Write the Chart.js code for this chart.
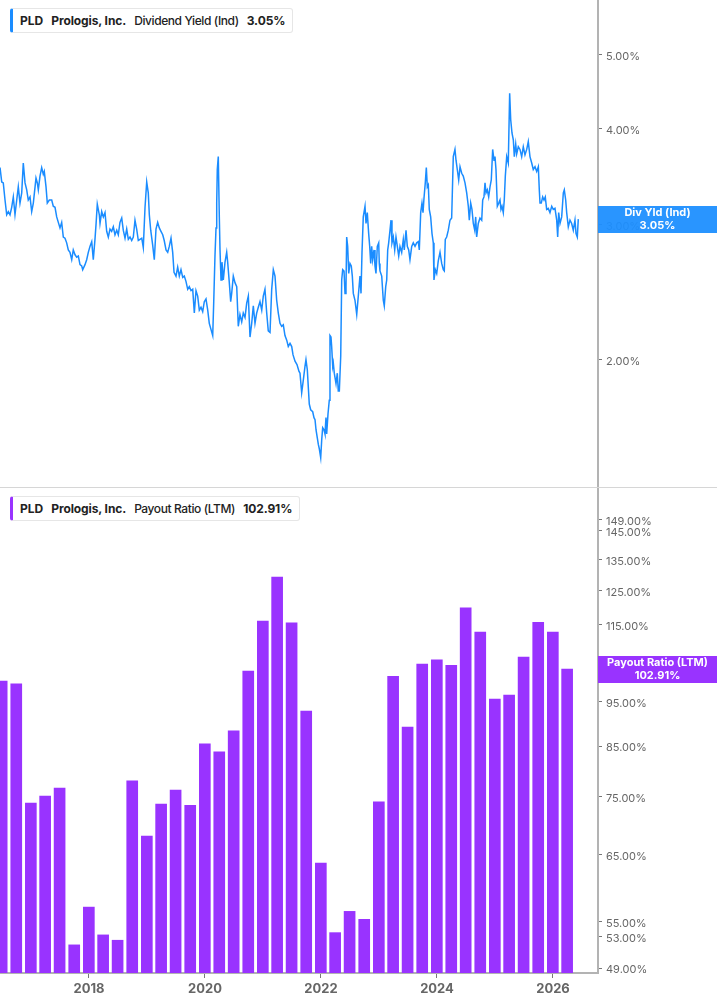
<!DOCTYPE html>
<html><head><meta charset="utf-8">
<script src="https://cdn.jsdelivr.net/npm/chart.js@4.4.1/dist/chart.umd.min.js"></script>
<style>
html,body{margin:0;padding:0;background:#fff;}
#wrap{position:relative;width:717px;height:1005px;overflow:hidden;font-family:Inter,Roboto,sans-serif;}
#c1{position:absolute;left:0;top:0;}
#c2{position:absolute;left:0;top:487px;}
.sep{position:absolute;left:0;top:487px;width:717px;height:1px;background:#d6d6d6;}
.leg{position:absolute;left:10px;height:25px;border:1px solid #e6e6e6;border-left:3px solid;border-radius:3px;background:#fff;display:flex;align-items:center;font-size:12px;color:#222;padding:0 7px 0 7px;white-space:nowrap;box-sizing:border-box;}
.leg span{margin-right:8px;}
.leg span:last-child{margin-right:0;}
.b{font-weight:700;}
.b2{font-weight:700;letter-spacing:-0.1px;}
.m{font-weight:500;letter-spacing:-0.4px;}
</style></head>
<body>
<div id="wrap">
<canvas id="c1" width="717" height="487"></canvas>
<canvas id="c2" width="717" height="518"></canvas>
<div class="sep"></div>
<div class="leg" style="top:8px;border-left-color:#1a8cff;"><span class="b">PLD</span><span class="b2">Prologis, Inc.</span><span class="m">Dividend Yield (Ind)</span><span class="b2">3.05%</span></div>
<div class="leg" style="top:496px;border-left-color:#9933ff;"><span class="b">PLD</span><span class="b2">Prologis, Inc.</span><span class="m">Payout Ratio (LTM)</span><span class="b2">102.91%</span></div>
</div>
<script>
// ---- data ----
const yieldTimes = [2016.466,2016.495,2016.522,2016.552,2016.581,2016.609,2016.638,2016.667,2016.695,2016.724,
2016.754,2016.781,2016.810,2016.840,2016.867,2016.897,2016.926,2016.953,2016.983,2017.012,
2017.040,2017.086,2017.109,2017.126,2017.155,2017.184,2017.212,2017.229,2017.259,2017.281,
2017.316,2017.357,2017.384,2017.414,2017.443,2017.471,2017.500,2017.529,2017.557,2017.586,
2017.615,2017.643,2017.672,2017.702,2017.729,2017.759,2017.788,2017.816,2017.845,2017.874,
2017.891,2017.931,2017.960,2017.988,2018.017,2018.047,2018.074,2018.103,2018.121,2018.143,
2018.178,2018.190,2018.219,2018.247,2018.276,2018.305,2018.333,2018.362,2018.391,2018.419,
2018.448,2018.478,2018.505,2018.534,2018.564,2018.591,2018.621,2018.650,2018.678,2018.707,
2018.736,2018.764,2018.793,2018.822,2018.850,2018.879,2018.909,2018.936,2018.966,2018.995,
2019.022,2019.040,2019.064,2019.098,2019.126,2019.155,2019.184,2019.212,2019.241,2019.271,
2019.297,2019.328,2019.357,2019.384,2019.414,2019.443,2019.466,2019.500,2019.529,2019.557,
2019.586,2019.616,2019.643,2019.672,2019.702,2019.729,2019.759,2019.788,2019.816,2019.845,
2019.874,2019.902,2019.931,2019.960,2019.988,2020.017,2020.047,2020.074,2020.103,2020.133,
2020.150,2020.172,2020.190,2020.202,2020.212,2020.229,2020.247,2020.259,2020.276,2020.293,
2020.316,2020.345,2020.374,2020.391,2020.419,2020.443,2020.460,2020.488,2020.517,2020.547,
2020.574,2020.603,2020.633,2020.660,2020.690,2020.719,2020.747,2020.776,2020.805,2020.833,
2020.862,2020.891,2020.919,2020.948,2020.978,2021.005,2021.034,2021.064,2021.091,2021.121,
2021.150,2021.178,2021.207,2021.236,2021.264,2021.293,2021.322,2021.350,2021.379,2021.409,
2021.436,2021.466,2021.495,2021.517,2021.552,2021.586,2021.621,2021.638,2021.667,2021.695,
2021.724,2021.741,2021.764,2021.798,2021.822,2021.857,2021.879,2021.897,2021.914,2021.937,
2021.954,2021.971,2021.995,2022.012,2022.029,2022.052,2022.069,2022.086,2022.098,2022.121,
2022.143,2022.155,2022.172,2022.184,2022.202,2022.212,2022.229,2022.259,2022.281,2022.298,
2022.316,2022.340,2022.357,2022.374,2022.397,2022.414,2022.431,2022.443,2022.460,2022.478,
2022.500,2022.522,2022.540,2022.557,2022.586,2022.616,2022.643,2022.672,2022.690,2022.707,
2022.729,2022.759,2022.776,2022.798,2022.822,2022.840,2022.857,2022.874,2022.891,2022.914,
2022.931,2022.948,2022.971,2022.995,2023.005,2023.017,2023.047,2023.074,2023.091,2023.116,
2023.133,2023.150,2023.167,2023.190,2023.207,2023.224,2023.247,2023.271,2023.293,2023.316,
2023.340,2023.362,2023.391,2023.419,2023.436,2023.466,2023.488,2023.512,2023.534,2023.564,
2023.591,2023.621,2023.650,2023.678,2023.695,2023.719,2023.741,2023.759,2023.776,2023.798,
2023.816,2023.833,2023.850,2023.867,2023.891,2023.914,2023.936,2023.948,2023.971,2023.995,
2024.022,2024.052,2024.081,2024.109,2024.126,2024.143,2024.167,2024.195,2024.224,2024.253,
2024.281,2024.310,2024.328,2024.350,2024.374,2024.397,2024.426,2024.453,2024.483,2024.512,
2024.540,2024.557,2024.581,2024.603,2024.626,2024.650,2024.667,2024.684,2024.712,2024.741,
2024.771,2024.788,2024.810,2024.828,2024.845,2024.867,2024.891,2024.914,2024.936,2024.960,
2024.983,2025.000,2025.017,2025.040,2025.064,2025.086,2025.103,2025.121,2025.143,2025.160,
2025.178,2025.202,2025.229,2025.253,2025.271,2025.293,2025.316,2025.333,2025.357,2025.374,
2025.402,2025.431,2025.460,2025.488,2025.517,2025.547,2025.574,2025.603,2025.633,2025.660,
2025.690,2025.719,2025.747,2025.764,2025.776,2025.798,2025.822,2025.845,2025.867,2025.891,
2025.919,2025.948,2025.978,2026.005,2026.034,2026.064,2026.081,2026.098,2026.121,2026.150,
2026.178,2026.195,2026.219,2026.236,2026.264,2026.293,2026.322,2026.350,2026.379,2026.397,
2026.419,2026.436];
const yieldValues = [3.56,3.41,3.40,3.23,3.09,3.12,3.09,3.16,3.26,3.09,
3.23,3.36,3.20,3.30,3.61,3.40,3.33,3.23,3.26,3.12,
3.20,3.45,3.40,3.33,3.47,3.56,3.49,3.52,3.36,3.20,
3.23,3.23,3.17,3.16,3.07,3.02,2.97,3.02,2.89,2.88,
2.84,2.78,2.76,2.70,2.78,2.74,2.72,2.73,2.66,2.65,
2.62,2.66,2.70,2.76,2.81,2.85,2.70,2.87,3.00,3.19,
3.09,3.01,3.12,3.07,3.11,2.94,2.89,2.96,2.94,2.98,
2.91,2.95,2.91,3.02,3.06,2.95,2.88,2.96,2.87,2.89,
2.86,2.89,3.04,2.96,2.86,2.87,2.88,2.80,3.16,3.41,
3.30,3.09,2.95,2.82,2.70,2.96,3.02,2.97,2.94,2.91,
2.86,2.78,2.76,2.81,2.88,2.76,2.60,2.57,2.64,2.57,
2.62,2.56,2.57,2.53,2.47,2.49,2.46,2.47,2.30,2.46,
2.42,2.32,2.34,2.31,2.38,2.40,2.32,2.23,2.19,2.15,
2.37,2.73,2.97,3.20,3.54,3.68,3.07,2.78,2.54,2.68,
2.54,2.68,2.76,2.68,2.52,2.38,2.44,2.57,2.52,2.49,
2.21,2.29,2.24,2.30,2.27,2.37,2.42,2.14,2.23,2.35,
2.23,2.30,2.34,2.38,2.32,2.42,2.47,2.30,2.18,2.17,
2.47,2.62,2.57,2.39,2.30,2.23,2.21,2.22,2.15,2.12,
2.08,2.10,2.08,2.03,1.99,1.97,1.93,1.92,1.81,1.88,
1.96,2.00,1.94,1.75,1.72,1.71,1.68,1.67,1.62,1.58,
1.55,1.53,1.49,1.57,1.63,1.62,1.60,1.68,1.60,1.70,
1.77,2.15,2.14,2.08,1.96,1.98,1.92,1.86,1.92,1.82,
1.82,2.02,2.54,2.62,2.61,2.44,2.49,2.89,2.81,2.59,
2.67,2.65,2.57,2.44,2.39,2.29,2.42,2.57,2.44,2.76,
3.07,3.17,3.01,3.11,2.92,2.81,2.67,2.81,2.70,2.78,
2.65,2.59,2.81,2.84,2.67,2.61,2.57,2.39,2.35,2.49,
2.54,2.78,2.84,2.95,3.04,2.84,2.89,2.78,2.89,2.81,
2.73,2.81,2.76,2.87,2.78,2.95,2.81,2.78,2.70,2.81,
2.84,2.81,2.84,2.85,2.78,3.11,3.20,3.11,3.25,3.40,
3.56,3.36,3.38,3.14,3.07,2.92,2.84,2.54,2.62,2.59,
2.69,2.76,2.67,2.62,2.61,2.87,2.89,2.95,3.04,3.06,
3.68,3.76,3.64,3.54,3.43,3.57,3.50,3.47,3.40,3.30,
3.17,3.04,3.20,3.14,3.01,2.95,3.07,2.89,3.01,3.06,
3.04,3.23,3.26,3.40,3.30,3.33,3.26,3.36,3.43,3.76,
3.64,3.68,3.54,3.17,3.20,3.23,3.14,3.17,3.11,3.23,
3.47,3.68,3.61,4.45,4.11,3.95,3.87,3.68,3.82,3.71,
3.79,3.76,3.68,3.79,3.70,3.76,3.85,3.68,3.61,3.54,
3.57,3.52,3.57,3.33,3.20,3.20,3.26,3.23,3.26,3.14,
3.15,3.11,3.17,3.14,3.15,3.04,2.89,3.11,3.01,3.07,
3.30,3.33,3.23,3.11,2.98,3.04,3.01,2.95,3.04,2.92,
2.89,3.05];
const payoutQuarters = ['2016-06-30','2016-09-30','2016-12-31','2017-03-31','2017-06-30','2017-09-30','2017-12-31',
'2018-03-31','2018-06-30','2018-09-30','2018-12-31','2019-03-31','2019-06-30','2019-09-30','2019-12-31',
'2020-03-31','2020-06-30','2020-09-30','2020-12-31','2021-03-31','2021-06-30','2021-09-30','2021-12-31',
'2022-03-31','2022-06-30','2022-09-30','2022-12-31','2023-03-31','2023-06-30','2023-09-30','2023-12-31',
'2024-03-31','2024-06-30','2024-09-30','2024-12-31','2025-03-31','2025-06-30','2025-09-30','2025-12-31','2026-03-31'];
const payoutValues = [99.9,99.2,73.8,75.1,76.6,51.9,57.0,53.2,52.5,78.0,68.0,73.6,76.2,73.4,85.5,83.8,88.3,102.4,
115.9,129.3,115.4,92.7,63.6,53.5,56.4,55.3,74.0,101.1,89.1,104.2,105.3,103.9,119.8,112.8,95.5,96.5,106.0,115.6,112.8,102.91];
const yieldTicks = [2,3,4,5];
const payoutTicks = [49,53,55,65,75,85,95,105,115,125,135,145,149];
const yearTicks = [2018,2020,2022,2024,2026];

// ---- helpers ----
function decYear(s){
  const d = new Date(s + 'T00:00:00Z');
  const y = d.getUTCFullYear();
  const a = Date.UTC(y,0,1), b = Date.UTC(y+1,0,1);
  return y + (d.getTime()-a)/(b-a);
}
const X_MIN = 2016.4655, X_MAX = 2026.776;
const AXIS_W = 119;
const FONT = 'Inter, Roboto, sans-serif';

function lastBox(id, title, color, value, label){
  return {
    id,
    afterDraw(chart){
      const s = chart.scales.y, ctx = chart.ctx;
      const y = s.getPixelForValue(value);
      ctx.save();
      ctx.fillStyle = color;
      ctx.fillRect(s.left, Math.round(y - 13), chart.width - s.left, 27);
      ctx.fillStyle = '#fff';
      ctx.font = 'bold 11px ' + FONT;
      ctx.textAlign = 'center';
      ctx.textBaseline = 'middle';
      const cx = s.left + (chart.width - s.left) / 2;
      ctx.fillText(title, cx, y - 6);
      ctx.fillText(label, cx, y + 7);
      ctx.restore();
    }
  };
}

function yAxis(min, max, ticks){
  return {
    type: 'logarithmic', position: 'right', min, max,
    afterBuildTicks: s => { s.ticks = ticks.map(v => ({value: v})); },
    afterFit: s => { s.width = AXIS_W; s.paddingTop = 0; s.paddingBottom = 0; },
    ticks: { autoSkip: false, color: '#666', font: {family: FONT, size: 11}, padding: 4, labelOffset: 2,
      callback: v => Number(v).toFixed(2) + '%' },
    grid: { drawOnChartArea: false, drawTicks: true, tickLength: 4, color: '#777', tickWidth: 1 },
    border: { display: true, color: '#b3b3b3', width: 2 }
  };
}

const lastYield = yieldValues[yieldValues.length - 1];
const lastPayout = payoutValues[payoutValues.length - 1];

new Chart(document.getElementById('c1'), {
  type: 'line',
  data: { datasets: [{
    data: yieldTimes.map((t, i) => ({x: t, y: yieldValues[i]})),
    borderColor: '#1a8cff', borderWidth: 1.5, pointRadius: 0, tension: 0, fill: false
  }]},
  options: {
    responsive: false, animation: false, events: [],
    layout: { padding: 0 },
    plugins: { legend: {display: false}, tooltip: {enabled: false} },
    scales: {
      x: { type: 'linear', display: false, min: X_MIN, max: X_MAX },
      y: yAxis(1.364, 5.89, yieldTicks)
    }
  },
  plugins: [lastBox('lb1', 'Div Yld (Ind)', 'rgba(30,143,255,0.95)', lastYield, lastYield.toFixed(2) + '%')]
});

new Chart(document.getElementById('c2'), {
  type: 'bar',
  data: { datasets: [{
    data: payoutQuarters.map((q, i) => ({x: decYear(q), y: payoutValues[i]})),
    backgroundColor: '#9933ff', borderWidth: 0, barThickness: 11
  }]},
  options: {
    responsive: false, animation: false, events: [],
    layout: { padding: 0 },
    plugins: { legend: {display: false}, tooltip: {enabled: false} },
    scales: {
      x: {
        type: 'linear', min: X_MIN, max: X_MAX, offset: false,
        afterBuildTicks: s => { s.ticks = yearTicks.map(v => ({value: v})); },
        afterFit: s => { s.height = 32; s.paddingLeft = 0; s.paddingRight = 0; },
        ticks: { autoSkip: false, maxRotation: 0, color: '#666', font: {family: FONT, size: 13, weight: 'bold'}, padding: 3,
          callback: v => String(v) },
        grid: { drawOnChartArea: false, offset: false, tickLength: 5, color: '#777' },
        border: { display: true, color: '#b3b3b3', width: 2 }
      },
      y: yAxis(48.4, 161.7, payoutTicks)
    }
  },
  plugins: [lastBox('lb2', 'Payout Ratio (LTM)', '#9933ff', lastPayout, lastPayout.toFixed(2) + '%')]
});
</script>
</body></html>
